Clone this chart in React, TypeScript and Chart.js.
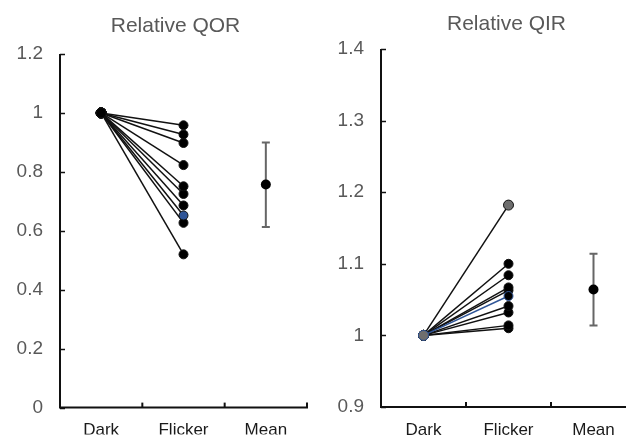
import React, { useEffect, useRef } from "react";
import { Chart, registerables } from "chart.js";

Chart.register(...registerables);

const categories = ["Dark", "Flicker", "Mean"];

// Relative QOR (left panel)
const qorDark = 1;
const qorFlicker = [0.958, 0.927, 0.898, 0.823, 0.751, 0.725, 0.686, 0.652, 0.627, 0.52];
const qorHighlight = 7; // blue-marked cell
const qorMean = 0.757;
const qorErrLow = 0.613;
const qorErrHigh = 0.9;
const qorTicks = [0, 0.2, 0.4, 0.6, 0.8, 1, 1.2];

// Relative QIR (right panel)
const qirDark = 1;
const qirFlicker = [1.182, 1.1, 1.084, 1.067, 1.063, 1.055, 1.041, 1.032, 1.014, 1.01];
const qirHighlight = 5;
const qirGray = 0;
const qirMean = 1.064;
const qirErrLow = 1.014;
const qirErrHigh = 1.114;
const qirTicks = [0.9, 1, 1.1, 1.2, 1.3, 1.4];

const FONT = "'Liberation Sans', Arial, sans-serif";
const BLUE = "#2f5597";
const GRAY_FILL = "#6e6e6e";

const axesPlugin = {
  id: "customAxes",
  beforeDatasetsDraw(chart: any, _args: any, opts: any) {
    const { ctx, chartArea } = chart;
    const x = chart.scales.x;
    const y = chart.scales.y;
    ctx.save();
    ctx.strokeStyle = "#111";
    ctx.lineWidth = 2;
    ctx.beginPath();
    ctx.moveTo(chartArea.left, chartArea.top);
    ctx.lineTo(chartArea.left, chartArea.bottom);
    ctx.lineTo(chartArea.right + opts.axisExtra, chartArea.bottom);
    ctx.stroke();
    // y ticks (inward)
    ctx.lineWidth = 1.5;
    y.ticks.forEach((t: any) => {
      const py = Math.round(y.getPixelForValue(t.value)) + 0.5;
      ctx.beginPath();
      ctx.moveTo(chartArea.left, py);
      ctx.lineTo(chartArea.left + 5, py);
      ctx.stroke();
    });
    // x ticks at category boundaries (inward)
    ctx.lineWidth = 2;
    const n = categories.length;
    for (let i = 0; i < n; i++) {
      const p0 = x.getPixelForValue(i);
      const p1 = i + 1 < n ? x.getPixelForValue(i + 1) : p0 + (p0 - x.getPixelForValue(i - 1));
      const bx = (p0 + p1) / 2;
      ctx.beginPath();
      ctx.moveTo(bx, chartArea.bottom);
      ctx.lineTo(bx, chartArea.bottom - 5);
      ctx.stroke();
    }
    // error bar for mean
    const mx = x.getPixelForValue(2);
    const yl = y.getPixelForValue(opts.errLow);
    const yh = y.getPixelForValue(opts.errHigh);
    ctx.strokeStyle = "#666";
    ctx.lineWidth = 2;
    ctx.beginPath();
    ctx.moveTo(mx, yl);
    ctx.lineTo(mx, yh);
    ctx.moveTo(mx - 4, yl);
    ctx.lineTo(mx + 4, yl);
    ctx.moveTo(mx - 4, yh);
    ctx.lineTo(mx + 4, yh);
    ctx.stroke();
    // title
    ctx.fillStyle = "#595959";
    ctx.font = `21px ${FONT}`;
    ctx.textAlign = "center";
    ctx.textBaseline = "middle";
    ctx.fillText(opts.title, (chartArea.left + chartArea.right) / 2 + opts.titleDx, opts.titleY);
    ctx.restore();
  },
};

function buildConfig(p: any) {
  const datasets: any[] = p.flicker.map((v: number, i: number) => {
    const blue = i === p.highlight;
    const gray = i === p.gray;
    return {
      data: [p.dark, v, null],
      borderColor: blue && p.blueLine ? BLUE : "#111",
      borderWidth: 1.5,
      pointRadius: [p.darkRadius, gray ? 5 : 4.5, 0],
      pointBorderWidth: 1,
      pointBorderColor: blue && p.blueLine ? BLUE : "#111",
      pointBackgroundColor: [
        p.darkFill,
        gray ? GRAY_FILL : blue && !p.blueLine ? BLUE : "#000",
        "#000",
      ],
      showLine: true,
      spanGaps: false,
      order: blue ? 0 : 1,
    };
  });
  datasets.push({
    data: [null, null, p.mean],
    showLine: false,
    pointRadius: 5,
    pointBorderWidth: 0,
    pointBackgroundColor: "#000",
    borderColor: "#000",
    order: 0,
  });
  return {
    type: "line",
    data: { labels: categories, datasets },
    plugins: [axesPlugin],
    options: {
      responsive: false,
      devicePixelRatio: 1,
      animation: false,
      layout: { padding: { top: p.padTop, right: p.padRight, left: 0, bottom: 0 } },
      plugins: {
        legend: { display: false },
        tooltip: { enabled: false },
        customAxes: {
          errLow: p.errLow,
          errHigh: p.errHigh,
          title: p.title,
          titleDx: p.titleDx,
          titleY: p.titleY,
          axisExtra: p.axisExtra,
        },
      },
      scales: {
        x: {
          type: "category",
          offset: true,
          grid: { display: false, drawTicks: false },
          border: { display: false },
          ticks: { color: "#1a1a1a", font: { family: FONT, size: 17 }, padding: p.xPad },
          afterFit: (s: any) => {
            s.height = p.xHeight;
          },
        },
        y: {
          min: p.ticks[0],
          max: p.ticks[p.ticks.length - 1],
          afterBuildTicks: (s: any) => {
            s.ticks = p.ticks.map((v: number) => ({ value: v }));
          },
          grid: { display: false, drawTicks: false },
          border: { display: false },
          ticks: {
            color: "#595959",
            font: { family: FONT, size: 19 },
            padding: 17,
            callback: (v: any) => String(Number(Number(v).toFixed(1))),
          },
          afterFit: (s: any) => {
            s.width = p.yWidth;
          },
        },
      },
    },
  };
}

export default function App() {
  const leftRef = useRef<HTMLCanvasElement>(null);
  const rightRef = useRef<HTMLCanvasElement>(null);

  useEffect(() => {
    const left = new Chart(
      leftRef.current as HTMLCanvasElement,
      buildConfig({
        dark: qorDark,
        flicker: qorFlicker,
        highlight: qorHighlight,
        gray: -1,
        blueLine: false,
        darkFill: "#000",
        darkRadius: 5,
        mean: qorMean,
        errLow: qorErrLow,
        errHigh: qorErrHigh,
        ticks: qorTicks,
        title: "Relative QOR",
        titleDx: -8,
        titleY: 26,
        padTop: 54,
        padRight: 3,
        xHeight: 27,
        xPad: 13,
        yWidth: 60,
        axisExtra: 1,
      }) as any
    );
    const right = new Chart(
      rightRef.current as HTMLCanvasElement,
      buildConfig({
        dark: qirDark,
        flicker: qirFlicker,
        highlight: qirHighlight,
        gray: qirGray,
        blueLine: true,
        darkFill: GRAY_FILL,
        darkRadius: 5,
        mean: qirMean,
        errLow: qirErrLow,
        errHigh: qirErrHigh,
        ticks: qirTicks,
        title: "Relative QIR",
        titleDx: -2,
        titleY: 24,
        padTop: 49,
        padRight: 7,
        xHeight: 29,
        xPad: 13,
        yWidth: 68,
        axisExtra: 10,
      }) as any
    );
    return () => {
      left.destroy();
      right.destroy();
    };
  }, []);

  return (
    <div
      style={{
        position: "absolute",
        left: 0,
        top: 0,
        width: 626,
        height: 436,
        overflow: "hidden",
        background: "#fff",
      }}
    >
      <canvas
        ref={leftRef}
        width={313}
        height={436}
        style={{ position: "absolute", left: 0, top: 0, width: 313, height: 436 }}
      />
      <canvas
        ref={rightRef}
        width={330}
        height={436}
        style={{ position: "absolute", left: 313, top: 0, width: 330, height: 436 }}
      />
    </div>
  );
}
